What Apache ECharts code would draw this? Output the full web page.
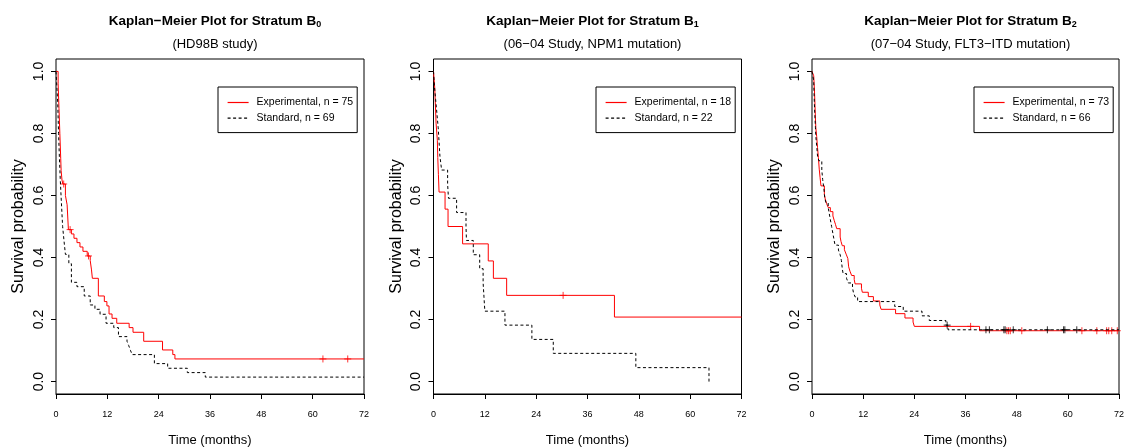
<!DOCTYPE html>
<html><head><meta charset="utf-8">
<script src="https://cdn.jsdelivr.net/npm/echarts@6/dist/echarts.min.js"></script>
<style>html,body{margin:0;padding:0;background:#fff}#c{width:1125px;height:448px}</style>
</head><body><div id="c"></div>
<script>
// ---- text ----
const panelTitles = ['Kaplan\u2212Meier Plot for Stratum B{s|0}', 'Kaplan\u2212Meier Plot for Stratum B{s|1}', 'Kaplan\u2212Meier Plot for Stratum B{s|2}'];
const panelSubtitles = ['(HD98B study)', '(06\u221204 Study, NPM1 mutation)', '(07\u221204 Study, FLT3\u2212ITD mutation)'];
const expNames = ['Experimental, n = 75', 'Experimental, n = 18', 'Experimental, n = 73'];
const stdNames = ['Standard, n = 69', 'Standard, n = 22', 'Standard, n = 66'];
const xTitle = 'Time (months)';
const yTitle = 'Survival probability';
const xTicks = [0, 12, 24, 36, 48, 60, 72];
const yTicks = [0, 0.2, 0.4, 0.6, 0.8, 1.0];

// ---- Stratum B0 ----
const b0ExpTime = [0,0.5,0.7,0.9,1.1,1.2,1.4,1.6,2.2,2.6,2.9,3.6,4.2,4.9,5.6,6.3,7.3,8.0,8.3,8.5,9.9,11.3,11.9,12.4,13.1,14.2,17.1,18.0,20.5,24.9,27.3,27.8,72];
const b0ExpSurv = [1.0,0.96,0.88,0.80,0.72,0.68,0.65,0.637,0.60,0.57,0.49,0.476,0.462,0.448,0.434,0.42,0.405,0.39,0.36,0.333,0.276,0.258,0.244,0.218,0.204,0.188,0.174,0.159,0.13,0.102,0.087,0.073,0.073];
const b0ExpCensor = [1.8, 3.3, 7.6, 62.4, 68.2];
const b0StdTime = [0,0.4,0.6,0.8,1.0,1.25,1.55,1.9,2.2,3.0,3.6,4.9,6.6,8.0,9.1,10.3,11.7,13.5,14.6,16.6,17.0,17.4,17.8,23.0,26.1,30.7,34.9,72];
const b0StdSurv = [1.0,0.9,0.8,0.72,0.65,0.58,0.5,0.45,0.41,0.38,0.32,0.306,0.276,0.247,0.233,0.217,0.188,0.174,0.145,0.13,0.116,0.101,0.087,0.058,0.043,0.029,0.0145,0.0145];
const b0StdCensor = [];

// ---- Stratum B1 ----
const b1ExpTime = [0,0.3,0.6,0.9,1.0,1.15,1.3,2.7,3.4,6.8,12.8,14.0,17.1,42.3,72];
const b1ExpSurv = [1,0.944,0.833,0.778,0.722,0.667,0.611,0.556,0.5,0.444,0.389,0.333,0.278,0.208,0.208];
const b1ExpCensor = [30.3];
const b1StdTime = [0,0.2,0.5,0.8,1.1,1.3,1.5,1.9,3.3,3.5,5.4,7.6,7.7,9.3,10.8,11.6,11.8,12.0,16.7,23.0,28.0,47.3,64.4];
const b1StdSurv = [1,0.955,0.909,0.864,0.818,0.773,0.727,0.682,0.636,0.591,0.545,0.5,0.455,0.409,0.364,0.318,0.273,0.227,0.182,0.136,0.091,0.045,0];
const b1StdCensor = [];

// ---- Stratum B2 ----
const b2ExpTime = [0,0.4,0.5,0.6,0.7,0.8,0.9,1.1,1.3,1.5,1.7,1.9,2.1,2.9,3.1,3.4,3.8,4.3,4.9,5.2,5.5,5.8,6.6,6.8,7.1,7.6,8.0,8.4,8.6,8.9,9.3,9.9,10.1,11.6,11.8,13.2,14.4,15.9,16.2,19.6,21.8,23.7,24.0,39.3,72];
const b2ExpSurv = [1,0.986,0.96,0.93,0.89,0.85,0.818,0.79,0.754,0.722,0.685,0.657,0.631,0.603,0.589,0.575,0.561,0.548,0.534,0.52,0.507,0.493,0.466,0.452,0.438,0.425,0.411,0.397,0.37,0.356,0.342,0.329,0.315,0.301,0.288,0.274,0.26,0.247,0.233,0.219,0.205,0.192,0.178,0.164,0.164];
const b2ExpCensor = [37.2,45.7,46.1,46.5,49.2,63.3,66.8,69.1,69.6,70.3,71.6];
const b2StdTime = [0,0.4,0.5,0.6,0.7,0.8,0.9,1.1,1.3,1.6,2.3,2.5,2.8,3.0,3.3,3.8,4.2,4.6,5.0,5.4,6.2,6.6,6.9,7.1,7.3,8.1,8.5,9.5,9.7,10.1,10.7,19.4,21.4,25.8,27.5,31.4,31.9,72];
const b2StdSurv = [1,0.97,0.92,0.88,0.85,0.82,0.79,0.76,0.727,0.712,0.682,0.652,0.621,0.591,0.576,0.561,0.53,0.5,0.47,0.44,0.424,0.409,0.39,0.364,0.348,0.333,0.318,0.303,0.288,0.273,0.258,0.242,0.227,0.212,0.197,0.182,0.167,0.167];
const b2StdCensor = [31.7,40.8,41.6,45.0,45.3,47.2,55.2,59.0,59.3,62.1];

// ---- build ----
const panels = [
  {exp:[b0ExpTime,b0ExpSurv,b0ExpCensor], std:[b0StdTime,b0StdSurv,b0StdCensor]},
  {exp:[b1ExpTime,b1ExpSurv,b1ExpCensor], std:[b1StdTime,b1StdSurv,b1StdCensor]},
  {exp:[b2ExpTime,b2ExpSurv,b2ExpCensor], std:[b2StdTime,b2StdSurv,b2StdCensor]}
];
const layout = [
  {left:56, width:308, legendLeft:218},
  {left:433.5, width:308, legendLeft:596},
  {left:812, width:307, legendLeft:974}
];
const FONT = '"Liberation Sans", Arial, Helvetica, sans-serif';
const RED = '#ff0000', BLACK = '#000000';
const plus = 'path://M5,0L5,10M0,5L10,5';

function pairs(t, s) { return t.map((v, i) => [v, s[i]]); }
function survAt(t, s, x) { let y = s[0]; for (let i = 0; i < t.length; i++) { if (t[i] <= x) y = s[i]; } return y; }

const option = {
  animation: false,
  backgroundColor: '#fff',
  textStyle: {fontFamily: FONT, color: '#000'},
  title: [], legend: [], grid: [], xAxis: [], yAxis: [], series: []
};

panels.forEach((p, i) => {
  const L = layout[i];
  const cx = L.left + L.width / 2;
  option.title.push({
    text: panelTitles[i], left: cx, top: 8, textAlign: 'center',
    textStyle: {fontFamily: FONT, fontSize: 13.5, fontWeight: 'bold', color: '#000',
      rich: {s: {fontFamily: FONT, fontSize: 9, fontWeight: 'bold', color: '#000', padding: [7, 0, 0, 0]}}}
  });
  option.title.push({
    text: panelSubtitles[i], left: cx, top: 33, textAlign: 'center',
    textStyle: {fontFamily: FONT, fontSize: 13, fontWeight: 'normal', color: '#000'}
  });
  option.grid.push({left: L.left, top: 59, width: L.width, height: 335, show: true,
    borderColor: '#000', borderWidth: 1, backgroundColor: 'transparent', containLabel: false, outerBoundsMode: 'none'});
  option.xAxis.push({
    type: 'value', gridIndex: i, min: 0, max: 72, interval: 12,
    axisLine: {show: true, onZero: false, lineStyle: {color: '#000', width: 1}},
    axisTick: {show: true, length: 5, lineStyle: {color: '#000'}, customValues: xTicks},
    axisLabel: {fontFamily: FONT, fontSize: 9, color: '#000', margin: 16, customValues: xTicks},
    splitLine: {show: false},
    name: xTitle, nameLocation: 'middle', nameGap: 40,
    nameTextStyle: {fontFamily: FONT, fontSize: 13, color: '#000'}
  });
  option.yAxis.push({
    type: 'value', gridIndex: i, min: -0.04, max: 1.04,
    axisLine: {show: false},
    axisTick: {show: true, length: 5, lineStyle: {color: '#000'}, customValues: yTicks},
    axisLabel: {fontFamily: FONT, fontSize: 14, color: '#000', rotate: 90, margin: 10,
      customValues: yTicks, formatter: v => v.toFixed(1)},
    splitLine: {show: false},
    name: yTitle, nameLocation: 'middle', nameGap: 29, nameRotate: 90,
    nameTextStyle: {fontFamily: FONT, fontSize: 16, color: '#000'}
  });
  option.legend.push({
    data: [expNames[i], stdNames[i]], orient: 'vertical', left: L.legendLeft, top: 87,
    padding: [10, 4, 9, 9], itemGap: 4.6, itemWidth: 21, itemHeight: 10,
    borderColor: '#000', borderWidth: 1, backgroundColor: '#fff',
    itemStyle: {opacity: 0},
    lineStyle: {width: 1.2},
    textStyle: {fontFamily: FONT, fontSize: 10.5, color: '#000', padding: [0, 0, 0, 3]},
    selectedMode: false
  });
  const [et, es, ec] = p.exp, [st, ss, sc] = p.std;
  option.series.push({
    type: 'line', name: expNames[i], xAxisIndex: i, yAxisIndex: i, step: 'end',
    data: pairs(et, es), symbol: 'none', color: RED,
    lineStyle: {color: RED, width: 1, type: 'solid'}, z: 2
  });
  option.series.push({
    type: 'scatter', name: 'exp-censor-' + i, xAxisIndex: i, yAxisIndex: i,
    data: ec.map(x => [x, survAt(et, es, x)]), symbol: plus, symbolSize: 7,
    itemStyle: {color: 'transparent', borderColor: RED, borderWidth: 1}, z: 3
  });
  option.series.push({
    type: 'line', name: stdNames[i], xAxisIndex: i, yAxisIndex: i, step: 'end',
    data: pairs(st, ss), symbol: 'none', color: BLACK,
    lineStyle: {color: BLACK, width: 1, type: [3, 2.5]}, z: 4
  });
  option.series.push({
    type: 'scatter', name: 'std-censor-' + i, xAxisIndex: i, yAxisIndex: i,
    data: sc.map(x => [x, survAt(st, ss, x)]), symbol: plus, symbolSize: 7,
    itemStyle: {color: 'transparent', borderColor: BLACK, borderWidth: 1}, z: 5
  });
});

const chart = echarts.init(document.getElementById('c'), null, {renderer: 'canvas'});
chart.setOption(option);
</script>
</body></html>
